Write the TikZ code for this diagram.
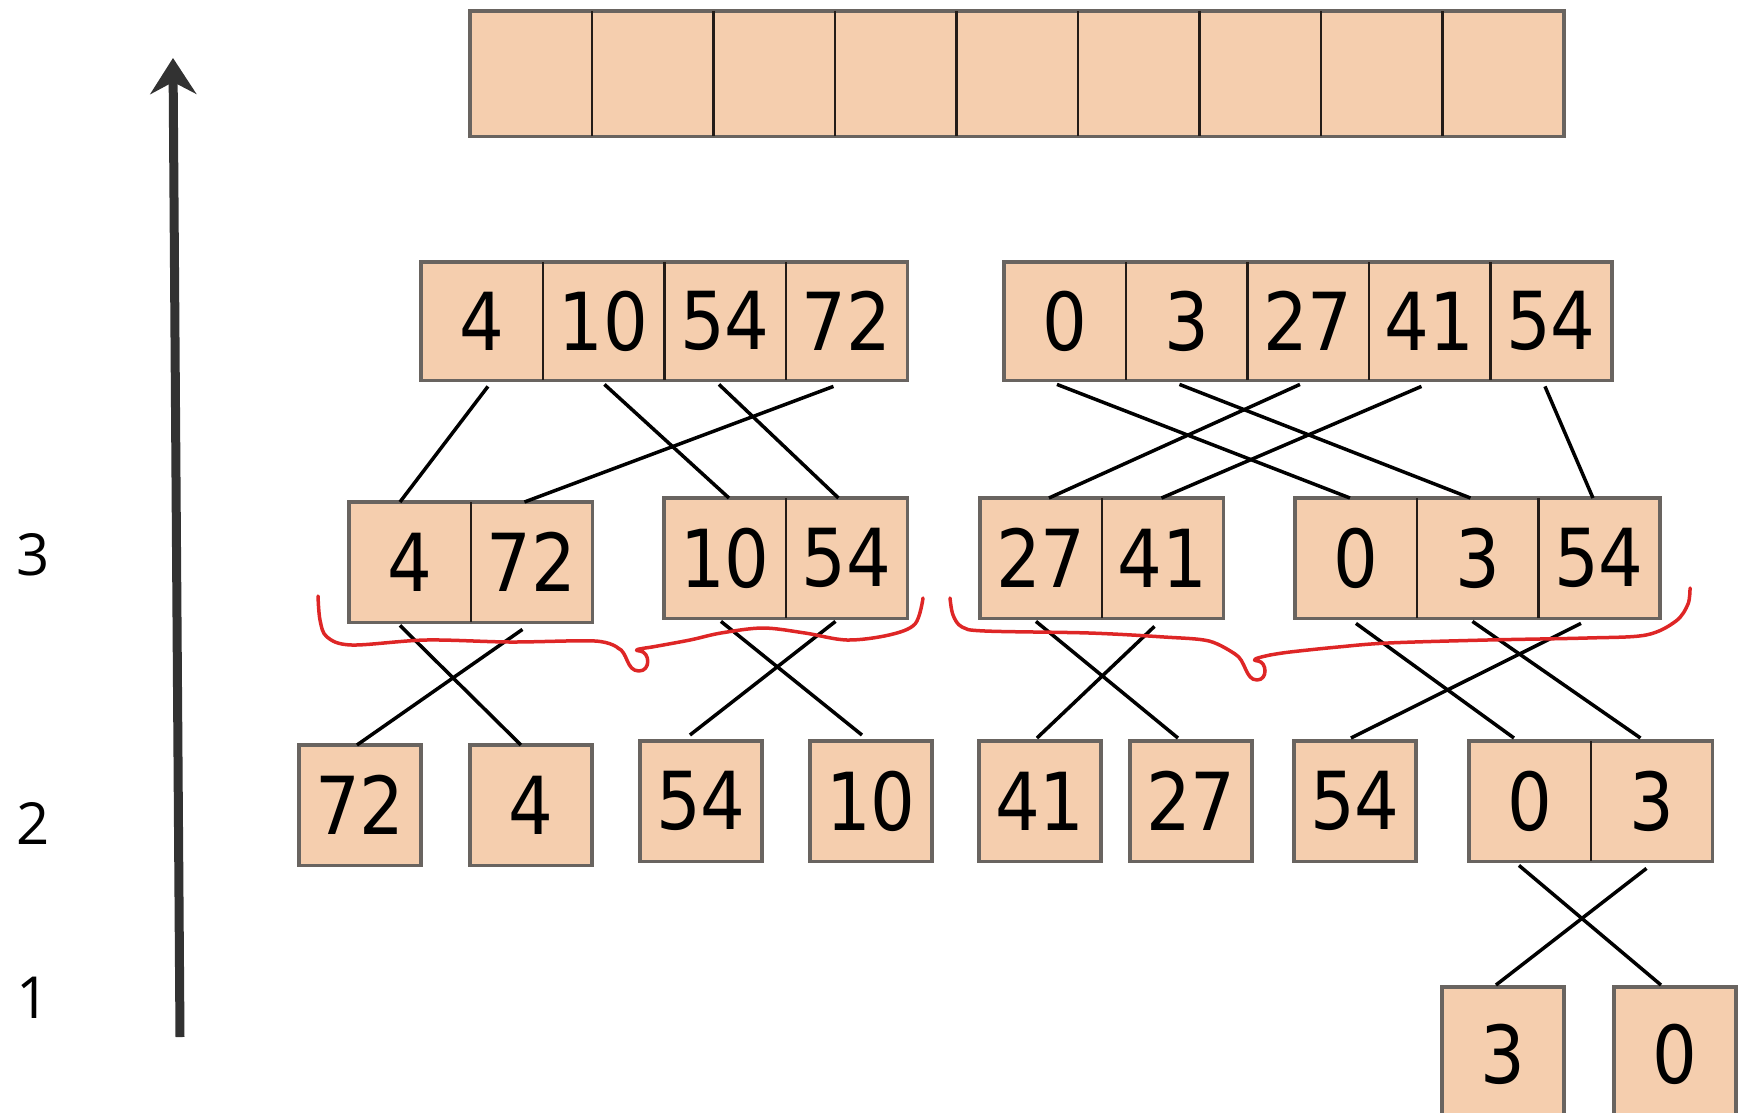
\documentclass[tikz,border=0pt]{standalone}
\usepackage{fontspec}
\usetikzlibrary{arrows.meta}
\newfontfamily\numfont[FakeStretch=0.88]{DejaVu Sans}
\newfontfamily\lvlfont{Open Sans}
\definecolor{peach}{RGB}{245,206,174}
\definecolor{edgegray}{RGB}{105,100,96}
\definecolor{divdark}{RGB}{35,28,24}
\definecolor{penred}{RGB}{222,38,38}
\definecolor{arrowgray}{RGB}{50,50,50}
\tikzset{
  cell/.style={fill=peach, minimum width=121.5pt, minimum height=#1, inner sep=0pt,
    anchor=north west, font=\numfont\fontsize{80}{86}\selectfont},
  cell/.default=120pt,
  outer/.style={draw=edgegray, line width=3.3pt},
  divline/.style={draw=divdark, line width=2.8pt},
  conn/.style={draw=black, line width=3.5pt},
  redpen/.style={draw=penred, line width=3.5pt, line cap=round, line join=round},
  lvl/.style={font=\lvlfont\fontsize{58}{64}\selectfont, inner sep=0pt},
  bigarrow/.style={draw=arrowgray, line width=9pt, -{Stealth[length=36pt,width=46pt,inset=12pt]}}
}
\begin{document}
\begin{tikzpicture}[x=1pt,y=-1pt]
\useasboundingbox (0,0) rectangle (1739,1112);
\clip (0,0) rectangle (1739,1112);
% level labels
\node[lvl] (l3) at (33,555) {3};
\node[lvl] (l2) at (33,823) {2};
\node[lvl] (l1) at (33,998) {1};
% arrow
\coordinate (arrbot) at (180,1037);
\coordinate (arrtop) at (173,58);
\draw[bigarrow] (arrbot) -- (arrtop);
% top empty row
\foreach \i in {0,...,8} {
  \node[cell=125pt] (t\i) at ({470+121.5*\i},11) {};
}
\draw[outer] (t0.north west) rectangle (t8.south east);
\foreach \i in {0,...,7} { \draw[divline] (t\i.north east) -- (t\i.south east); }
% row A left
\node[cell=118pt] (aL1) at (421,262) {4};
\node[cell=118pt] (aL2) at (542.5,262) {10};
\node[cell=118pt] (aL3) at (664,262) {54};
\node[cell=118pt] (aL4) at (785.5,262) {72};
\draw[outer] (aL1.north west) rectangle (aL4.south east);
\foreach \n in {aL1,aL2,aL3} { \draw[divline] (\n.north east) -- (\n.south east); }
% row A right
\node[cell=118pt] (aR1) at (1004,262) {0};
\node[cell=118pt] (aR2) at (1125.5,262) {3};
\node[cell=118pt] (aR3) at (1247,262) {27};
\node[cell=118pt] (aR4) at (1368.5,262) {41};
\node[cell=118pt] (aR5) at (1490,262) {54};
\draw[outer] (aR1.north west) rectangle (aR5.south east);
\foreach \n in {aR1,aR2,aR3,aR4} { \draw[divline] (\n.north east) -- (\n.south east); }
% row B
\node[cell] (b11) at (349,502) {4};
\node[cell] (b12) at (470.5,502) {72};
\draw[outer] (b11.north west) rectangle (b12.south east);
\draw[divline] (b11.north east) -- (b11.south east);
\node[cell] (b21) at (664,498) {10};
\node[cell] (b22) at (785.5,498) {54};
\draw[outer] (b21.north west) rectangle (b22.south east);
\draw[divline] (b21.north east) -- (b21.south east);
\node[cell] (b31) at (980,498) {27};
\node[cell] (b32) at (1101.5,498) {41};
\draw[outer] (b31.north west) rectangle (b32.south east);
\draw[divline] (b31.north east) -- (b31.south east);
\node[cell] (b41) at (1295,498) {0};
\node[cell] (b42) at (1416.5,498) {3};
\node[cell] (b43) at (1538,498) {54};
\draw[outer] (b41.north west) rectangle (b43.south east);
\draw[divline] (b41.north east) -- (b41.south east);
\draw[divline] (b42.north east) -- (b42.south east);
% row C
\node[cell] (c1) at (299,745) {72};
\node[cell] (c2) at (470,745) {4};
\node[cell] (c3) at (640,741) {54};
\node[cell] (c4) at (810,741) {10};
\node[cell] (c5) at (979,741) {41};
\node[cell] (c6) at (1130,741) {27};
\node[cell] (c7) at (1294,741) {54};
\foreach \n in {c1,c2,c3,c4,c5,c6,c7} { \draw[outer] (\n.north west) rectangle (\n.south east); }
\node[cell] (c81) at (1469,741) {0};
\node[cell] (c82) at (1590.5,741) {3};
\draw[outer] (c81.north west) rectangle (c82.south east);
\draw[divline] (c81.north east) -- (c81.south east);
% row D
\node[cell=135pt] (d1) at (1442,987) {3};
\node[cell=135pt] (d2) at (1614,987) {0};
\draw[outer] (d1.north west) rectangle (d1.south east);
\draw[outer] (d2.north west) rectangle (d2.south east);
% connectors A -> B
\draw[conn] ([xshift=6pt,yshift=-6pt]aL1.south) -- ([xshift=-10pt]b11.north);
\draw[conn] ([xshift=1pt,yshift=-4pt]aL2.south) -- ([xshift=4pt]b21.north);
\draw[conn] ([xshift=-6pt,yshift=-4pt]aL3.south) -- ([xshift=-8pt]b22.north);
\draw[conn] ([xshift=-13pt,yshift=-6pt]aL4.south) -- ([xshift=-7pt]b12.north);
\draw[conn] ([xshift=-8pt,yshift=-4pt]aR1.south) -- ([xshift=-6pt]b41.north);
\draw[conn] ([xshift=-7pt,yshift=-4pt]aR2.south) -- ([xshift=-7pt]b42.north);
\draw[conn] ([xshift=-8pt,yshift=-4pt]aR3.south) -- ([xshift=8pt]b31.north);
\draw[conn] ([xshift=-8pt,yshift=-6pt]aR4.south) -- ([xshift=-1pt]b32.north);
\draw[conn] ([xshift=-6pt,yshift=-6pt]aR5.south) -- ([xshift=-6pt]b43.north);
% connectors B -> C
\draw[conn] ([xshift=-10pt,yshift=-3pt]b11.south) -- ([xshift=-10pt]c2.north);
\draw[conn] ([xshift=-9pt,yshift=-7pt]b12.south) -- ([xshift=-3pt]c1.north);
\draw[conn] ([xshift=-4pt,yshift=-3pt]b21.south) -- ([xshift=-9pt,yshift=6pt]c4.north);
\draw[conn] ([xshift=-11pt,yshift=-3pt]b22.south) -- ([xshift=-11pt,yshift=6pt]c3.north);
\draw[conn] ([xshift=-5pt,yshift=-3pt]b31.south) -- ([xshift=-13pt,yshift=3pt]c6.north);
\draw[conn] ([xshift=-8pt,yshift=-8pt]b32.south) -- ([xshift=-3pt,yshift=3pt]c5.north);
\draw[conn] ([xshift=0pt,yshift=-5pt]b41.south) -- ([xshift=-16pt,yshift=3pt]c81.north);
\draw[conn] ([xshift=-5pt,yshift=-3pt]b42.south) -- ([xshift=-11pt,yshift=3pt]c82.north);
\draw[conn] ([xshift=-18pt,yshift=-5pt]b43.south) -- ([xshift=-4pt,yshift=3pt]c7.north);
% connectors C -> D
\draw[conn] ([xshift=-11pt,yshift=-4pt]c81.south) -- ([xshift=-14pt,yshift=2pt]d2.north);
\draw[conn] ([xshift=-5pt,yshift=-7pt]c82.south) -- ([xshift=-7pt,yshift=2pt]d1.north);
% red hand-drawn braces (left)
\draw[redpen] plot[smooth, tension=0.55] coordinates {
  (318,596) (320,620) (327,637) (352,645) (426,640) (510,642) (595,641) (618,648)};
\draw[redpen] (618,648) .. controls (628,652) and (626,671) .. (639,671)
  .. controls (651,671) and (650,652) .. (640,651)
  .. controls (632,650) and (638,649) .. (652,647);
\draw[redpen] plot[smooth, tension=0.55] coordinates {
  (652,647) (690,640) (721,633) (763,628) (805,633) (847,640) (889,635) (915,624) (923,598)};
% red hand-drawn braces (right)
\draw[redpen] plot[smooth, tension=0.55] coordinates {
  (950,598) (953,615) (962,627) (985,631) (1089,633) (1164,637) (1209,641) (1235,654)};
\draw[redpen] (1235,654) .. controls (1246,660) and (1245,680) .. (1257,680)
  .. controls (1268,680) and (1267,662) .. (1258,661)
  .. controls (1250,660) and (1256,658) .. (1270,655);
\draw[redpen] plot[smooth, tension=0.55] coordinates {
  (1270,655) (1290,652) (1338,647) (1388,643) (1487,640) (1587,638) (1646,635) (1676,621) (1688,604) (1690,588)};
\end{tikzpicture}
\end{document}
